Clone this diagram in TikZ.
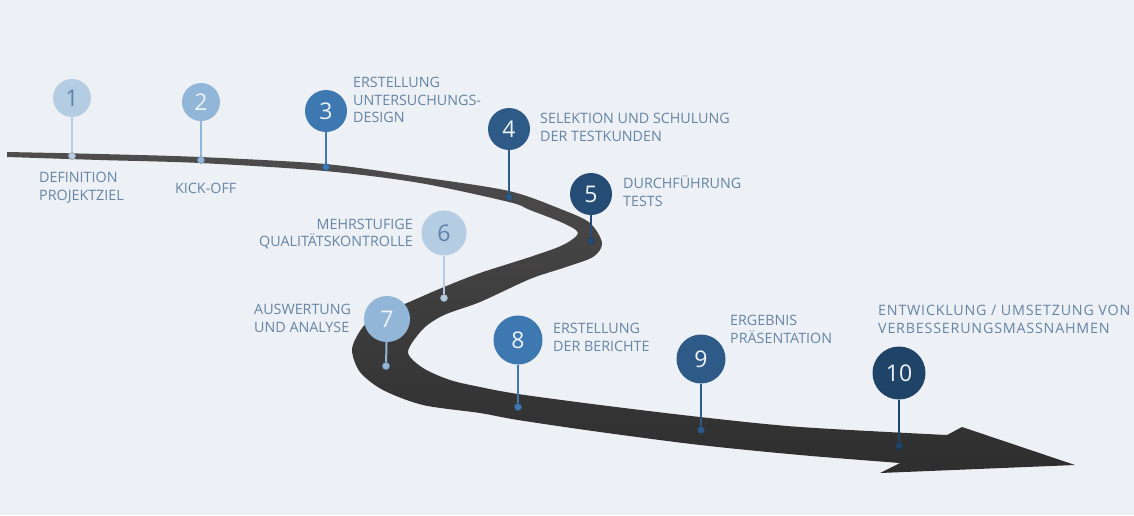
\documentclass[tikz,border=0pt]{standalone}
\usepackage{fontspec}
\setmainfont{Open Sans}
\definecolor{bg}{HTML}{EDF0F4}
\definecolor{lblc}{HTML}{6585A6}
\definecolor{roadtop}{HTML}{4E4C4C}
\definecolor{roadbot}{HTML}{2E2E2E}
\definecolor{ca}{HTML}{B5CDE2}
\definecolor{cb}{HTML}{92B6D8}
\definecolor{cc}{HTML}{3D78B0}
\definecolor{cd}{HTML}{2D5A87}
\definecolor{ce}{HTML}{254C74}
\definecolor{cf}{HTML}{1F4468}
\definecolor{numdark}{HTML}{5F83A8}
\definecolor{numlight}{HTML}{EEF3F8}
\begin{document}
\begin{tikzpicture}[x=1pt,y=-1pt,
  lbl/.style={font=\fontsize{14.3}{17.8}\selectfont, text=lblc, inner sep=0pt, align=left},
  lblr/.style={lbl, align=right},
  lblwide/.style={lbl, font=\fontsize{14.3}{17.8}\selectfont\addfontfeatures{LetterSpace=5.5}},
  circ/.style={circle, inner sep=0pt, font=\fontsize{23}{23}\selectfont, text=numlight},
  pin/.style={line width=2pt},
  dotn/.style={circle, inner sep=0pt, minimum size=7pt, line width=0.6pt}]
\fill[bg] (0,0) rectangle (1134,515);
\useasboundingbox (0,0) rectangle (1134,515);

% road
\shade[top color=roadtop, bottom color=roadbot]
  plot[smooth, tension=0.5] coordinates {(7,152) (100,154) (200,157) (325,164) (420,177) (509,191) (563,210) (590,223) (602,243) (593,257) (563,268) (530,279) (480,302) (444,315) (423,329) (408,352) (423,368) (450,380) (480,387) (518,394) (600,405) (700,417) (800,427) (947,435)}
  -- (962,427) -- (1075,465) -- (880,473)
  -- plot[smooth, tension=0.5] coordinates {(900,463) (800,455) (700,445) (600,432) (518,420) (480,413) (423,405) (383,390) (360,372) (352,350) (360,331) (373,318) (407,303) (444,287) (480,273) (530,257) (563,245) (578,233) (563,223) (530,210) (509,202) (420,183) (325,171) (200,163) (100,160) (7,157)}
  -- cycle;

% circles
\node[circ, fill=ca, minimum size=38pt, text=numdark] (n1) at (72,98) {1};
\node[circ, fill=cb, minimum size=38pt] (n2) at (201,102) {2};
\node[circ, fill=cc, minimum size=42pt] (n3) at (326,111) {3};
\node[circ, fill=cd, minimum size=42pt] (n4) at (509,129) {4};
\node[circ, fill=ce, minimum size=42pt] (n5) at (591,194) {5};
\node[circ, fill=ca, minimum size=45pt, text=numdark] (n6) at (444,233) {6};
\node[circ, fill=cb, minimum size=46pt] (n7) at (387,319) {7};
\node[circ, fill=cc, minimum size=49pt] (n8) at (518,340) {8};
\node[circ, fill=cd, minimum size=49pt] (n9) at (701,359) {9};
\node[circ, fill=cf, minimum size=53pt] (n10) at (899,373) {10};

% dots
\node[dotn, fill=ca, draw=ca!80!black] (d1) at (72,156) {};
\node[dotn, fill=cb, draw=cb!80!black] (d2) at (201,160) {};
\node[dotn, fill=cc, draw=cc!80!black] (d3) at (326,167) {};
\node[dotn, fill=cd, draw=cd!80!black] (d4) at (509,197) {};
\node[dotn, fill=ce, draw=ce!80!black] (d5) at (591,241) {};
\node[dotn, fill=ca, draw=ca!80!black] (d6) at (444,298) {};
\node[dotn, fill=cb, draw=cb!80!black] (d7) at (386,366) {};
\node[dotn, fill=cc, draw=cc!80!black] (d8) at (518,407) {};
\node[dotn, fill=cd, draw=cd!80!black] (d9) at (701,430) {};
\node[dotn, fill=cf, draw=cf!80!black] (d10) at (899,446) {};

% stems
\draw[pin, ca] (n1) -- (d1);
\draw[pin, cb] (n2) -- (d2);
\draw[pin, cc] (n3) -- (d3);
\draw[pin, cd] (n4) -- (d4);
\draw[pin, ce] (n5) -- (d5);
\draw[pin, ca] (n6) -- (d6);
\draw[pin, cb] (n7) -- (d7);
\draw[pin, cc] (n8) -- (d8);
\draw[pin, cd] (n9) -- (d9);
\draw[pin, cf] (n10) -- (d10);

% labels
\node[lbl, anchor=west] (t1) at (39,188) {DEFINITION\\PROJEKTZIEL};
\node[lbl, anchor=west] (t2) at (175,188) {KICK-OFF};
\node[lbl, anchor=west] (t3) at (353,100) {ERSTELLUNG\\UNTERSUCHUNGS-\\DESIGN};
\node[lbl, anchor=west] (t4) at (540,127) {SELEKTION UND SCHULUNG\\DER TESTKUNDEN};
\node[lbl, anchor=west] (t5) at (623,191.5) {DURCHFÜHRUNG\\TESTS};
\node[lblr, anchor=east] (t6) at (413,234) {MEHRSTUFIGE\\QUALITÄTSKONTROLLE};
\node[lbl, anchor=west] (t7) at (254,318) {AUSWERTUNG\\UND ANALYSE};
\node[lbl, anchor=west] (t8) at (553,337) {ERSTELLUNG\\DER BERICHTE};
\node[lbl, anchor=west] (t9) at (730,329) {ERGEBNIS\\PRÄSENTATION};
\node[lblwide, anchor=west] (t10) at (878,319) {ENTWICKLUNG / UMSETZUNG VON\\VERBESSERUNGSMASSNAHMEN};
\end{tikzpicture}
\end{document}
